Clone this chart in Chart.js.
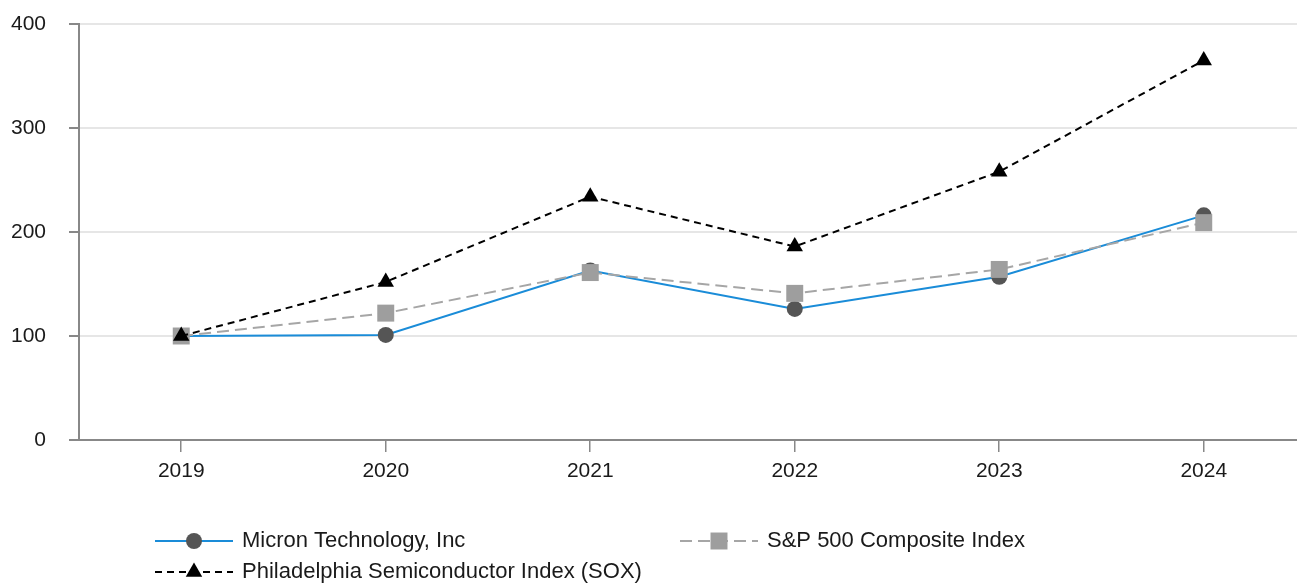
<!DOCTYPE html>
<html>
<head>
<meta charset="utf-8">
<script src="https://cdn.jsdelivr.net/npm/chart.js@4/dist/chart.umd.min.js"></script>
<style>
  html, body { margin: 0; padding: 0; background: #fff; }
  #wrap { width: 1297px; height: 584px; }
</style>
</head>
<body>
<div id="wrap"><canvas id="perfChart"></canvas></div>
<script>
// values
const years = [2019, 2020, 2021, 2022, 2023, 2024];
const micron = [100, 101, 163, 126, 157, 216];
const sp500 = [100, 122, 161, 141, 164, 209];
const sox = [100, 152, 234, 186, 258, 365];
const yTicks = [0, 100, 200, 300, 400];
const seriesNames = ["Micron Technology, Inc", "S&P 500 Composite Index", "Philadelphia Semiconductor Index (SOX)"];

const FONT = "'Liberation Sans', Arial, sans-serif";

function toPoints(values) {
    return years.map((y, i) => ({ x: y, y: values[i] }));
}

// draws the legend rows: line sample with marker through the middle
const lineLegend = {
    id: "lineLegend",
    afterDraw(chart) {
        const ctx = chart.ctx;
        const items = [
            { x: 155, y: 541, ds: chart.data.datasets[2] },
            { x: 680, y: 541, ds: chart.data.datasets[1] },
            { x: 155, y: 572, ds: chart.data.datasets[0] }
        ];
        ctx.save();
        items.forEach(it => {
            const ds = it.ds;
            ctx.strokeStyle = ds.borderColor;
            ctx.lineWidth = ds.borderWidth;
            ctx.setLineDash(ds.borderDash || []);
            ctx.beginPath();
            ctx.moveTo(it.x, it.y);
            ctx.lineTo(it.x + 78, it.y);
            ctx.stroke();
            ctx.setLineDash([]);
            const cx = it.x + 39;
            ctx.fillStyle = ds.pointBackgroundColor;
            ctx.beginPath();
            if (ds.pointStyle === "circle") {
                ctx.arc(cx, it.y, ds.pointRadius, 0, Math.PI * 2);
            } else if (ds.pointStyle === "rect") {
                const s = ds.pointRadius * Math.SQRT1_2;
                ctx.rect(cx - s, it.y - s, 2 * s, 2 * s);
            } else {
                const r = ds.pointRadius;
                ctx.moveTo(cx, it.y - r);
                ctx.lineTo(cx + r * Math.sin(2 * Math.PI / 3), it.y + r / 2);
                ctx.lineTo(cx - r * Math.sin(2 * Math.PI / 3), it.y + r / 2);
                ctx.closePath();
            }
            ctx.fill();
            ctx.fillStyle = "#1a1a1a";
            ctx.font = "22px " + FONT;
            ctx.textBaseline = "middle";
            ctx.textAlign = "left";
            ctx.fillText(ds.label, it.x + 87, it.y);
        });
        ctx.restore();
    }
};

const ctx = document.getElementById("perfChart").getContext("2d");

new Chart(ctx, {
    type: "line",
    data: {
        datasets: [
            {
                label: seriesNames[2],
                data: toPoints(sox),
                borderColor: "#000000",
                borderWidth: 2,
                borderDash: [7, 5],
                pointStyle: "triangle",
                pointRadius: 9.5,
                pointBackgroundColor: "#000000",
                pointBorderWidth: 0,
                tension: 0
            },
            {
                label: seriesNames[1],
                data: toPoints(sp500),
                borderColor: "#a6a6a6",
                borderWidth: 2,
                borderDash: [12, 6],
                pointStyle: "rect",
                pointRadius: 12,
                pointBackgroundColor: "#9e9e9e",
                pointBorderWidth: 0,
                tension: 0
            },
            {
                label: seriesNames[0],
                data: toPoints(micron),
                borderColor: "#1a8cd8",
                borderWidth: 2,
                pointStyle: "circle",
                pointRadius: 8,
                pointBackgroundColor: "#555555",
                pointBorderWidth: 0,
                tension: 0
            }
        ]
    },
    options: {
        responsive: true,
        maintainAspectRatio: false,
        animation: false,
        layout: { autoPadding: false, padding: { top: 24, right: 0, left: 0, bottom: 0 } },
        plugins: {
            legend: { display: false },
            tooltip: { enabled: false }
        },
        scales: {
            x: {
                type: "linear",
                min: 2018.5,
                max: 2024.456,
                afterBuildTicks: scale => { scale.ticks = years.map(v => ({ value: v })); },
                afterFit: scale => {
                    scale.height = 144;
                    scale.paddingRight = 0;
                    scale.paddingLeft = 0;
                },
                grid: {
                    drawOnChartArea: false,
                    color: "#888888",
                    tickColor: "#888888",
                    tickLength: 12,
                    lineWidth: 1.5
                },
                border: { color: "#888888", width: 2 },
                ticks: {
                    padding: 7,
                    color: "#1a1a1a",
                    font: { family: FONT, size: 21 },
                    callback: v => String(v),
                    maxRotation: 0
                }
            },
            y: {
                min: 0,
                max: 400,
                afterBuildTicks: scale => { scale.ticks = yTicks.map(v => ({ value: v })); },
                afterFit: scale => {
                    scale.width = 79;
                    scale.paddingTop = 0;
                    scale.paddingBottom = 0;
                },
                grid: {
                    color: "#e6e6e6",
                    lineWidth: 2,
                    tickColor: "#888888",
                    tickLength: 10
                },
                border: { color: "#888888", width: 2 },
                ticks: {
                    padding: 23,
                    color: "#1a1a1a",
                    font: { family: FONT, size: 21 }
                }
            }
        }
    },
    plugins: [lineLegend]
});
</script>
</body>
</html>
